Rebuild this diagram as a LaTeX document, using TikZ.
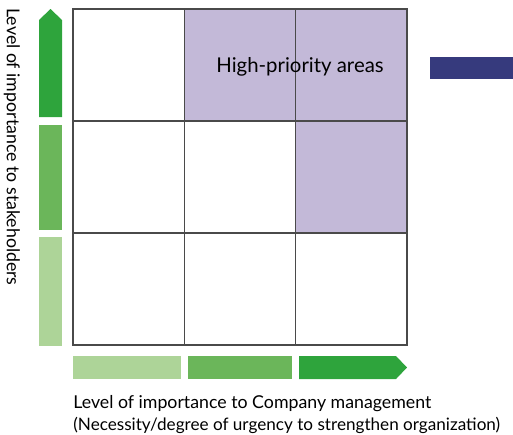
\documentclass[tikz,border=0pt]{standalone}
\usepackage{fontspec}
\setmainfont{Lato}
\usetikzlibrary{positioning}

\definecolor{gridline}{HTML}{4A4A4A}
\definecolor{prio}{HTML}{C3B9D8}
\definecolor{navy}{HTML}{363A7D}
\definecolor{greenA}{HTML}{ADD498}
\definecolor{greenB}{HTML}{6BB65A}
\definecolor{greenC}{HTML}{2EA43C}

\begin{document}
\begin{tikzpicture}[x=0.02cm, y=-0.02cm, every node/.style={font=\fontsize{10.1}{12}\selectfont},
  cell/.style={draw=gridline, line width=0.7pt, minimum width=2.226cm, minimum height=2.24cm, inner sep=0pt},
  hot/.style={cell, fill=prio}]
\useasboundingbox (0,0) rectangle (513,434);

% ---------- 3x3 matrix ----------
\foreach \r in {0,1,2} {
  \foreach \c in {0,1,2} {
    \node[cell] (m\r\c) at ({73+55.65+111.3*\c},{9+56+112*\r}) {};
  }
}
\node[hot] at (m01) {};
\node[hot] at (m02) {};
\node[hot] at (m12) {};
\foreach \r in {0,1,2} {
  \foreach \c in {0,1,2} {
    \node[cell] at (m\r\c) {};
  }
}
\node[font=\fontsize{11.6}{13}\selectfont] (hp) at (300,67) {High-priority areas};
\fill[navy] (430,57) rectangle (513,79);

% ---------- vertical axis: stakeholders ----------
\fill[greenA] (39,237) rectangle (62,346);
\fill[greenB] (39,125) rectangle (62,230);
\fill[greenC] (39,117) -- (39,20) -- (50.5,9) -- (62,20) -- (62,117) -- cycle;
\node[rotate=-90] (ylab) at (12,147) {Level of importance to stakeholders};

% ---------- horizontal axis: management ----------
\fill[greenA] (73,356) rectangle (181,379);
\fill[greenB] (188,356) rectangle (292,379);
\fill[greenC] (299,356) -- (396,356) -- (407,367.5) -- (396,379) -- (299,379) -- cycle;
\node[anchor=west, inner sep=0pt] (xlab) at (73,404) {Level of importance to Company management};
\node[anchor=west, inner sep=0pt, font=\fontsize{9.75}{12}\selectfont] (xsub) at (73,425) {(Necessity/degree of urgency to strengthen organization)};

\end{tikzpicture}
\end{document}
